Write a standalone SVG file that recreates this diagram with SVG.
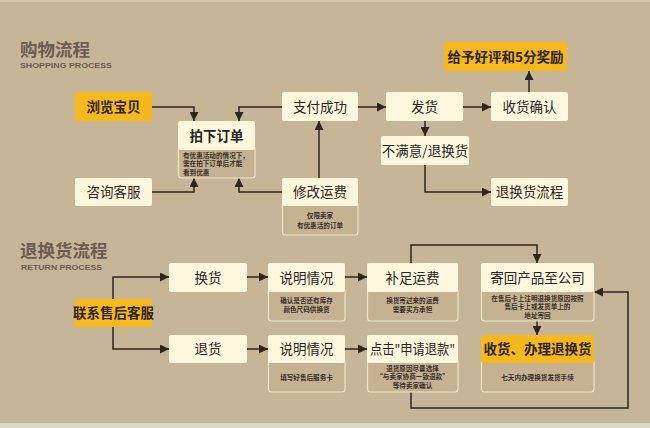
<svg xmlns="http://www.w3.org/2000/svg" width="650" height="428" viewBox="0 0 650 428">
<defs>
<marker id="ah" viewBox="0 0 10 10" refX="10" refY="5" markerWidth="9" markerHeight="9" markerUnits="userSpaceOnUse" orient="auto"><path d="M0,0 L10,5 L0,10 z" fill="#2e251c"/></marker>
<style>
.box{fill:#fdf8dd}
.yel{fill:#f6b81c}
.note{fill:#c5b293;stroke:#efe4c2;stroke-width:1.2}
.lbl{font-family:"Noto Sans CJK SC","Noto Sans",sans-serif;font-size:13.5px;fill:#2b241e;text-anchor:middle}
.ylbl{font-family:"Noto Sans CJK SC","Noto Sans",sans-serif;font-size:13.5px;font-weight:bold;fill:#2b241e;text-anchor:middle}
.nt{font-family:"Noto Sans CJK SC","Noto Sans",sans-serif;font-size:6.6px;font-weight:bold;fill:#3a3027;text-anchor:middle}
.ttl{font-family:"Noto Sans CJK SC","Noto Sans",sans-serif;font-size:17.5px;font-weight:bold;fill:#6c5c51}
.sub{font-family:"Liberation Sans",Arial,sans-serif;font-size:8px;font-weight:bold;fill:#6c5c51}
.ln{fill:none;stroke:#2e251c;stroke-width:1.5}
</style>
</defs>
<rect x="0" y="0" width="650" height="428" fill="#c7b598"/>
<rect x="0" y="0" width="650" height="2" fill="#d3c4aa"/>
<rect x="0" y="423" width="650" height="5" fill="#ddd6ca"/>

<g id="titles">
<text class="ttl" x="20" y="56">购物流程</text>
<text class="sub" x="20" y="67.5" textLength="92" lengthAdjust="spacingAndGlyphs">SHOPPING PROCESS</text>
<text class="ttl" x="20" y="257">退换货流程</text>
<text class="sub" x="21" y="269.5" textLength="81" lengthAdjust="spacingAndGlyphs">RETURN PROCESS</text>
</g>

<g id="connectors">
<path class="ln" d="M152,107 H194 V121" marker-end="url(#ah)"/>
<path class="ln" d="M282,107 H239 V121" marker-end="url(#ah)"/>
<path class="ln" d="M152,192 H194 V178" marker-end="url(#ah)"/>
<path class="ln" d="M282,192 H239 V178" marker-end="url(#ah)"/>
<path class="ln" d="M319,178 V121" marker-end="url(#ah)"/>
<path class="ln" d="M358,107 H386" marker-end="url(#ah)"/>
<path class="ln" d="M463,107 H491" marker-end="url(#ah)"/>
<path class="ln" d="M529,92 V71" marker-end="url(#ah)"/>
<path class="ln" d="M425,121 V136" marker-end="url(#ah)"/>
<path class="ln" d="M425,165 V192 H491" marker-end="url(#ah)"/>
<path class="ln" d="M113,299 V277 H169" marker-end="url(#ah)"/>
<path class="ln" d="M113,327 V349 H169" marker-end="url(#ah)"/>
<path class="ln" d="M247,277 H268" marker-end="url(#ah)"/>
<path class="ln" d="M247,349 H268" marker-end="url(#ah)"/>
<path class="ln" d="M345,277 H367" marker-end="url(#ah)"/>
<path class="ln" d="M345,349 H367" marker-end="url(#ah)"/>
<path class="ln" d="M411,263 V245 H537 V263" marker-end="url(#ah)"/>
<path class="ln" d="M537,321 V335" marker-end="url(#ah)"/>
<path class="ln" d="M411,392 V408 H628 V292 H594" marker-end="url(#ah)"/>
</g>

<g id="n-browse"><rect class="yel" x="75" y="92" width="77" height="29" rx="2"/><text class="ylbl" x="113.5" y="111.5">浏览宝贝</text></g>
<g id="n-order"><rect class="note" x="178.5" y="146" width="76.5" height="32" rx="3"/><rect class="box" x="178" y="121" width="77" height="29" rx="2"/><text class="lbl" x="216.5" y="140.5" style="font-weight:bold">拍下订单</text>
<text class="nt" style="text-anchor:start"><tspan x="183" y="157.5">有优惠活动的情况下，</tspan><tspan x="183" dy="8.6">需在拍下订单后才能</tspan><tspan x="183" dy="8.6">看到优惠</tspan></text></g>
<g id="n-consult"><rect class="box" x="75" y="178" width="77" height="28" rx="2"/><text class="lbl" x="113.5" y="197">咨询客服</text></g>
<g id="n-pay"><rect class="box" x="282" y="92" width="76" height="29" rx="2"/><text class="lbl" x="320" y="111.5">支付成功</text></g>
<g id="n-fee"><rect class="note" x="282.5" y="202" width="75.5" height="33" rx="3"/><rect class="box" x="282" y="178" width="76" height="28" rx="2"/><text class="lbl" x="320" y="197">修改运费</text>
<text class="nt"><tspan x="320" y="217.5">仅限卖家</tspan><tspan x="320" dy="10">有优惠活的订单</tspan></text></g>
<g id="n-ship"><rect class="box" x="386" y="92" width="77" height="29" rx="2"/><text class="lbl" x="424.5" y="111.5">发货</text></g>
<g id="n-receive"><rect class="box" x="491" y="92" width="77" height="29" rx="2"/><text class="lbl" x="529.5" y="111.5">收货确认</text></g>
<g id="n-praise"><rect class="yel" x="444" y="42" width="123" height="29" rx="2"/><text class="ylbl" x="505.5" y="61.5">给予好评和5分奖励</text></g>
<g id="n-unhappy"><rect class="box" x="381" y="136" width="88" height="29" rx="2"/><text class="lbl" x="425" y="155.5">不满意/退换货</text></g>
<g id="n-returnflow"><rect class="box" x="491" y="178" width="77" height="28" rx="2"/><text class="lbl" x="529.5" y="197">退换货流程</text></g>

<g id="n-contact"><rect class="yel" x="75" y="299" width="77" height="28" rx="2"/><text class="ylbl" x="113.5" y="318">联系售后客服</text></g>
<g id="n-exchange"><rect class="box" x="169" y="263" width="78" height="29" rx="2"/><text class="lbl" x="208" y="282.5">换货</text></g>
<g id="n-refund"><rect class="box" x="169" y="335" width="78" height="28" rx="2"/><text class="lbl" x="208" y="354">退货</text></g>
<g id="n-explain1"><rect class="note" x="268.5" y="288" width="76.5" height="33" rx="3"/><rect class="box" x="268" y="263" width="77" height="29" rx="2"/><text class="lbl" x="306.5" y="282.5">说明情况</text>
<text class="nt"><tspan x="306.5" y="302.5">确认是否还有库存</tspan><tspan x="306.5" dy="9">颜色尺码供换货</tspan></text></g>
<g id="n-addfee"><rect class="note" x="367.5" y="288" width="90.5" height="33" rx="3"/><rect class="box" x="367" y="263" width="91" height="29" rx="2"/><text class="lbl" x="412.5" y="282.5">补足运费</text>
<text class="nt"><tspan x="412.5" y="302.5">换货寄过来的运费</tspan><tspan x="412.5" dy="9">需要买方承担</tspan></text></g>
<g id="n-sendback"><rect class="note" x="481.5" y="288" width="112.5" height="33" rx="3"/><rect class="box" x="481" y="263" width="113" height="29" rx="2"/><text class="lbl" x="537.5" y="282.5">寄回产品至公司</text>
<text class="nt"><tspan x="537.5" y="300.5">在售后卡上注明退换货原因按照</tspan><tspan x="537.5" dy="8.6">售后卡上或发货单上的</tspan><tspan x="537.5" dy="8.6">地址寄回</tspan></text></g>
<g id="n-explain2"><rect class="note" x="268.5" y="359" width="76.5" height="33" rx="3"/><rect class="box" x="268" y="335" width="77" height="28" rx="2"/><text class="lbl" x="306.5" y="354">说明情况</text>
<text class="nt" x="306.5" y="379.5">填写好售后服务卡</text></g>
<g id="n-apply"><rect class="note" x="367.5" y="359" width="90.5" height="33" rx="3"/><rect class="box" x="367" y="335" width="91" height="28" rx="2"/><text class="lbl" x="412.5" y="354" textLength="85" lengthAdjust="spacingAndGlyphs">点击"申请退款"</text>
<text class="nt"><tspan x="412.5" y="370.5">退货原因尽量选择</tspan><tspan x="412.5" dy="8.6">“与卖家协商一致退款”</tspan><tspan x="412.5" dy="8.6">等待卖家确认</tspan></text></g>
<g id="n-handle"><rect class="note" x="481.5" y="359" width="112.5" height="33" rx="3"/><rect class="yel" x="481" y="335" width="113" height="28" rx="2"/><text class="ylbl" x="537.5" y="354">收货、办理退换货</text>
<text class="nt" x="537.5" y="379.5">七天内办理换货发货手续</text></g>
</svg>
